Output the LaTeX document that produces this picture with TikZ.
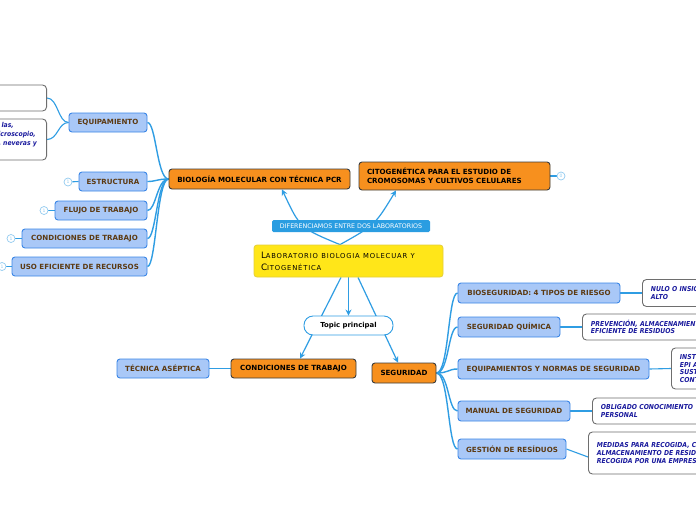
\documentclass[tikz,border=0pt]{standalone}
\usepackage{fontspec}
\setmainfont{DejaVu Sans}
\newfontfamily\labfont[LetterSpace=12]{DejaVu Sans}
\newfontfamily\wbfont[FakeStretch=0.9]{DejaVu Sans}
\usetikzlibrary{arrows.meta}
\pgfdeclarelayer{bg}
\pgfsetlayers{bg,main}
\definecolor{orgfill}{HTML}{F7901E}
\definecolor{orgdraw}{HTML}{3C3C3C}
\definecolor{lbfill}{HTML}{A9C8F7}
\definecolor{lbdraw}{HTML}{3A86E6}
\definecolor{lbtext}{HTML}{5C3A12}
\definecolor{yelfill}{HTML}{FFE619}
\definecolor{yeldraw}{HTML}{E5CF3A}
\definecolor{lblfill}{HTML}{2A9DE1}
\definecolor{wbdraw}{HTML}{6E6E6E}
\definecolor{wbtext}{HTML}{1B1B9E}
\definecolor{connblue}{HTML}{2F9DE3}
\definecolor{cntblue}{HTML}{92CBF0}
\tikzset{
 basebox/.style={inner sep=0pt, rounded corners=3pt, line width=0.9pt, font=\bfseries\fontsize{7.1}{8.6}\selectfont},
 orangebox/.style={basebox, fill=orgfill, draw=orgdraw, text=black},
 bluebox/.style={basebox, fill=lbfill, draw=lbdraw, text=lbtext},
 whitebox/.style={inner xsep=8.5pt, inner ysep=0pt, rounded corners=4pt, line width=0.9pt, draw=wbdraw, fill=white, text=wbtext, font=\wbfont\bfseries\itshape\fontsize{6.8}{7.7}\selectfont, align=left},
 wbtxt/.style={inner sep=0pt, text=wbtext, font=\wbfont\bfseries\itshape\fontsize{6.8}{7.7}\selectfont},
 yellowbox/.style={fill=yelfill, draw=yeldraw, line width=0.8pt, rounded corners=3pt, minimum width=189pt, minimum height=32pt, inner xsep=7pt, inner ysep=0pt, text width=175pt, align=left, text=black},
 lbl/.style={fill=lblfill, text=white, font=\fontsize{6.3}{7}\selectfont, minimum width=158pt, minimum height=12pt, inner sep=0pt, rounded corners=1.5pt},
 topicbox/.style={draw=connblue, fill=white, line width=0.9pt, rounded corners=9pt, minimum width=89pt, minimum height=19pt, inner sep=0pt, font=\bfseries\fontsize{6.9}{8}\selectfont},
 conn/.style={draw=connblue, line width=1.4pt},
 thinconn/.style={draw=connblue, line width=1.1pt},
 arr/.style={draw=connblue, line width=1.2pt, -{Stealth[length=6pt,width=6pt]}},
 cnt/.style={circle, draw=cntblue, fill=white, line width=0.7pt, minimum size=8pt, inner sep=0pt, text=cntblue, font=\fontsize{4.5}{5}\selectfont},
}
\begin{document}
\begin{tikzpicture}[x=1pt,y=-1pt]
\useasboundingbox (0,0) rectangle (696,520);
\begin{pgfonlayer}{bg}
\fill[white] (0,0) rectangle (696,520);
\end{pgfonlayer}
\clip (0,0) rectangle (696,520);

% central
\node[yellowbox] (lab) at (348.5,261) {\labfont{\fontsize{8.8}{10.6}\selectfont L}{\fontsize{6.8}{10.6}\selectfont ABORATORIO BIOLOGIA MOLECUAR Y}\\{\fontsize{8.8}{10.6}\selectfont C}{\fontsize{6.8}{10.6}\selectfont ITOGENÉTICA}};
\node[lbl] (dif) at (351,226) {DIFERENCIAMOS ENTRE DOS LABORATORIOS};
\node[topicbox] (topic) at (348.5,325.5) {Topic principal};

% top branches
\node[orangebox, minimum width=181pt, minimum height=20pt] (bio) at (259.5,179) {BIOLOGÍA MOLECULAR CON TÉCNICA PCR};
\node[orangebox, minimum width=191pt, minimum height=28pt, text width=175pt, inner xsep=8pt, align=left] (cito) at (454.5,176) {CITOGENÉTICA PARA EL ESTUDIO DE\\CROMOSOMAS Y CULTIVOS CELULARES};
\node[cnt] (c5) at (561,176) {0};

% left children
\node[bluebox, minimum width=78pt, minimum height=19pt] (equip) at (108,122.5) {EQUIPAMIENTO};
\node[bluebox, minimum width=68pt, minimum height=19pt] (estr) at (113,181.5) {ESTRUCTURA};
\node[bluebox, minimum width=92pt, minimum height=19pt] (flujo) at (101,210.5) {FLUJO DE TRABAJO};
\node[bluebox, minimum width=125pt, minimum height=19pt] (condl) at (84.5,238.5) {CONDICIONES DE TRABAJO};
\node[bluebox, minimum width=135pt, minimum height=19pt] (uso) at (79.5,266.5) {USO EFICIENTE DE RECURSOS};
\node[cnt] (c1) at (68,182) {1};
\node[cnt] (c2) at (44,210.5) {1};
\node[cnt] (c3) at (11,238.5) {1};
\node[cnt] (c4) at (2,266.5) {1};

\node[whitebox, minimum width=90pt, minimum height=26pt, anchor=east] (w1) at (47,98) {};
\node[whitebox, minimum width=90pt, minimum height=41pt, anchor=east] (w2) at (47,139.5) {};
\node[wbtxt, anchor=base east] (t1) at (14,127.5) {las,};
\node[wbtxt, anchor=base east] (t2) at (36,136.5) {icroscopio,};
\node[wbtxt, anchor=base east] (t3) at (37,145.5) {, neveras y};

% bottom
\node[orangebox, minimum width=125pt, minimum height=19pt] (cond) at (293.5,368.5) {CONDICIONES DE TRABAJO};
\node[bluebox, minimum width=92pt, minimum height=19pt] (tec) at (163,368.5) {TÉCNICA ASÉPTICA};
\node[orangebox, minimum width=64pt, minimum height=20pt] (seg) at (404,373) {SEGURIDAD};

% right children
\node[bluebox, minimum width=162pt, minimum height=20pt] (bios) at (539,293) {BIOSEGURIDAD: 4 TIPOS DE RIESGO};
\node[bluebox, minimum width=102pt, minimum height=20pt] (segq) at (509,327) {SEGURIDAD QUÍMICA};
\node[bluebox, minimum width=191pt, minimum height=20pt] (eqn) at (553.5,369) {EQUIPAMIENTOS Y NORMAS DE SEGURIDAD};
\node[bluebox, minimum width=112pt, minimum height=20pt] (man) at (514,411) {MANUAL DE SEGURIDAD};
\node[bluebox, minimum width=108pt, minimum height=20pt] (gest) at (512,449) {GESTIÓN DE RESÍDUOS};

\node[whitebox, anchor=west, text width=130pt, minimum height=27pt] (r1) at (642,293) {NULO O INSIG\\ALTO};
\node[whitebox, anchor=west, text width=130pt, minimum height=26pt] (r2) at (582,327) {PREVENCIÓN, ALMACENAMIENT\\EFICIENTE DE RESIDUOS};
\node[whitebox, anchor=west, text width=130pt, minimum height=41pt] (r3) at (671,368.5) {INST\\EPI A\\SUST\\CONT};
\node[whitebox, anchor=west, text width=130pt, minimum height=26pt] (r4) at (592,411) {OBLIGADO CONOCIMIENTO\\PERSONAL};
\node[whitebox, anchor=west, text width=130pt, minimum height=42pt] (r5) at (588,453) {MEDIDAS PARA RECOGIDA, C\\ALMACENAMIENTO DE RESID\\RECOGIDA POR UNA EMPRES};

\begin{pgfonlayer}{bg}
% central arrows
\draw[arr] ([xshift=-8.5pt]lab.north) .. controls (300,228) .. ([xshift=22.5pt]bio.south);
\draw[arr] ([xshift=-8.5pt]lab.north) .. controls (375,225) .. ([xshift=-58.5pt]cito.south);
\draw[arr] ([xshift=-7.5pt]lab.south) -- ([xshift=6.5pt]cond.north);
\draw[arr] (lab.south) -- (topic.north);
\draw[arr] ([xshift=9.5pt]lab.south) -- ([xshift=-6pt]seg.north);
% left branches
\draw[conn] (bio.west) .. controls (157,179) and (156,122.5) .. (equip.east);
\draw[conn] (bio.west) .. controls (157,179) and (156,181.5) .. (estr.east);
\draw[conn] (bio.west) .. controls (157,179) and (156,210.5) .. (flujo.east);
\draw[conn] (bio.west) .. controls (157,179) and (156,238.5) .. (condl.east);
\draw[conn] (bio.west) .. controls (157,179) and (156,266.5) .. (uso.east);
\draw[thinconn] (equip.west) .. controls (58,122.5) and (58,98) .. (w1.east);
\draw[thinconn] (equip.west) .. controls (58,122.5) and (58,139.5) .. (w2.east);
\draw[thinconn] (c1) -- (estr.west);
\draw[thinconn] (c2) -- (flujo.west);
\draw[thinconn] (c3) -- (condl.west);
\draw[thinconn] (c4) -- (uso.west);
\draw[thinconn] (cito.east) -- (c5);
% bottom
\draw[thinconn] (tec.east) -- (cond.west);
% right branches
\draw[conn] (seg.east) .. controls (449,373) and (448,293) .. (bios.west);
\draw[conn] (seg.east) .. controls (449,373) and (448,327) .. (segq.west);
\draw[conn] (seg.east) .. controls (449,373) and (448,369) .. (eqn.west);
\draw[conn] (seg.east) .. controls (449,373) and (448,411) .. (man.west);
\draw[conn] (seg.east) .. controls (449,373) and (448,449) .. (gest.west);
\draw[thinconn] (bios.east) -- (r1.west);
\draw[thinconn] (segq.east) -- (r2.west);
\draw[thinconn] (eqn.east) -- (r3.west);
\draw[thinconn] (man.east) -- (r4.west);
\draw[thinconn] (gest.east) -- ([yshift=-4pt]r5.west);
\end{pgfonlayer}
\end{tikzpicture}
\end{document}
